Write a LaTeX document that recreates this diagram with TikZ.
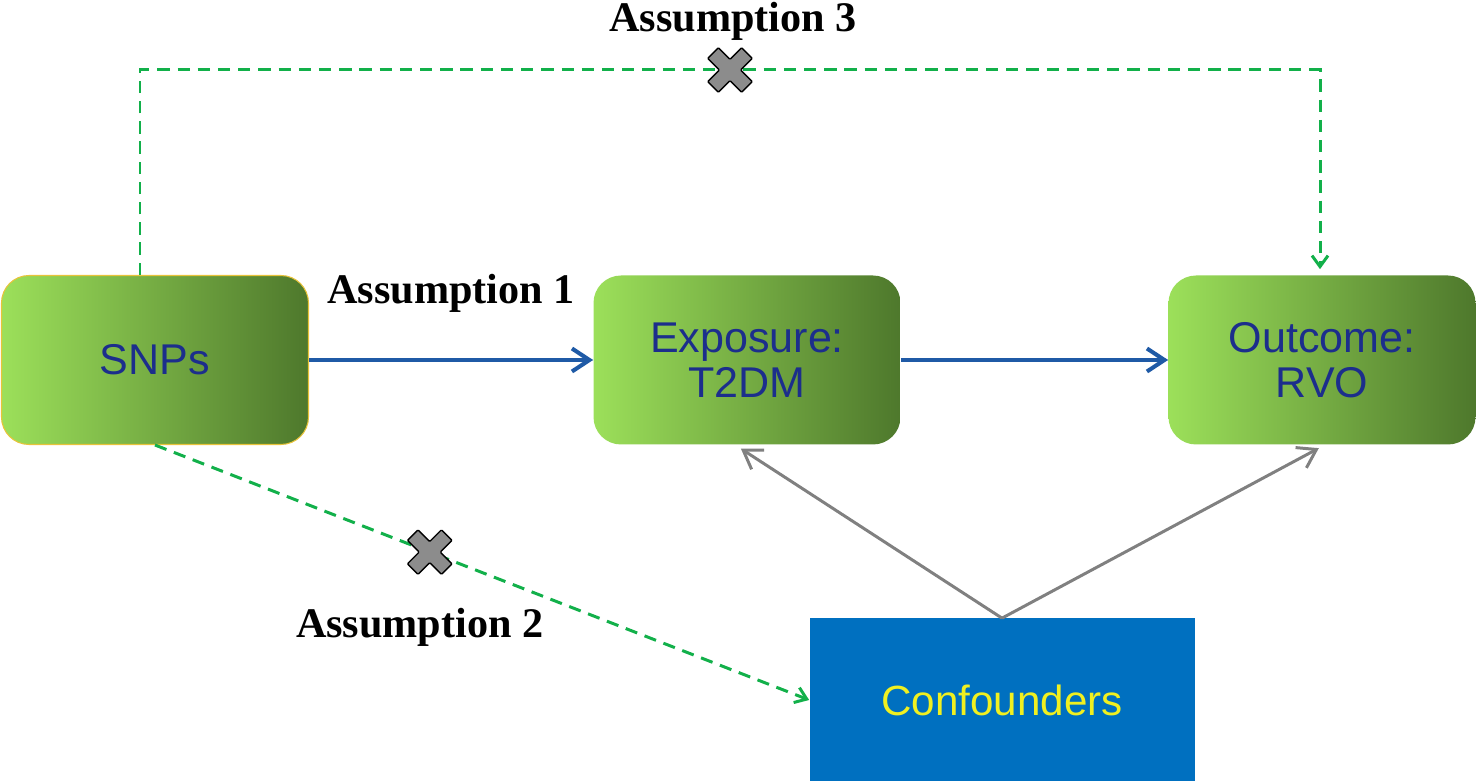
\documentclass[tikz,border=0pt]{standalone}
\usepackage{fontspec}
\setmainfont{Liberation Serif}
\newfontfamily\boxfont{Liberation Sans}
\usetikzlibrary{positioning,calc,arrows.meta}

\definecolor{lightgrn}{HTML}{9CE05A}
\definecolor{midgrn}{HTML}{93D052}
\definecolor{darkgrn}{HTML}{4E782C}
\definecolor{boxedge}{HTML}{E8C33A}
\definecolor{dashgrn}{HTML}{12B04A}
\definecolor{arrowblue}{HTML}{1F5AA6}
\definecolor{navytext}{HTML}{1C2E8C}
\definecolor{confblue}{HTML}{0070C0}
\definecolor{confyellow}{HTML}{F0F020}
\definecolor{crossgray}{HTML}{8C8C8C}

\tikzset{
  varbox/.style={rectangle, rounded corners=0.55cm, minimum width=6.14cm, minimum height=3.38cm,
    left color=lightgrn, middle color=midgrn, right color=darkgrn, text=navytext, align=center, inner sep=0pt,
    font=\boxfont\fontsize{24.5}{25.6}\selectfont},
  confbox/.style={rectangle, fill=confblue, text=confyellow, minimum width=7.7cm, minimum height=3.26cm,
    font=\boxfont\fontsize{24}{25.6}\selectfont},
  asm/.style={inner sep=1pt, font=\bfseries\fontsize{24}{28}\selectfont},
  causal/.style={-{Straight Barb[length=3.5mm,width=4.6mm]}, arrowblue, line width=2.3pt},
  violated/.style={-{Straight Barb[length=2.2mm,width=3.2mm]}, dashgrn, line width=1.7pt,
    dash pattern=on 7pt off 4.5pt},
  confarrow/.style={-{Straight Barb[length=3.5mm,width=4.6mm]}, gray, line width=1.7pt, shorten >=4pt},
  nox/.pic={
    \filldraw[fill=crossgray, draw=black, line width=0.8pt, rotate=45, rounded corners=0.5pt]
      (0.15,0.15) -- (0.48,0.15) -- (0.48,-0.15) -- (0.15,-0.15) -- (0.15,-0.48) -- (-0.15,-0.48)
      -- (-0.15,-0.15) -- (-0.48,-0.15) -- (-0.48,0.15) -- (-0.15,0.15) -- (-0.15,0.48) -- (0.15,0.48) -- cycle;
  }
}

\begin{document}
\begin{tikzpicture}[on grid]
   \useasboundingbox (-3.1,7.2) rectangle (26.42,-8.42);
   \node[varbox, draw=boxedge, line width=0.6pt] (snp) {SNPs};
   \node[varbox] (exp) [right=11.84cm of snp] {Exposure:\\T2DM};
   \node[varbox] (out) [right=11.5cm of exp] {Outcome:\\RVO};
   \node[confbox] (conf) [below right=6.8cm and 16.94cm of snp] {Confounders};

   \draw[causal] (snp) -- (exp);
   \draw[causal] (exp) -- (out);
   \node[asm] (a1) at ($(snp.east)!0.5!(exp.west)+(0,1.34)$) {Assumption 1};

   \coordinate (t1) at ($(snp.center)+(-0.3,5.8)$);
   \coordinate (t2) at ($(out.center)+(-0.04,5.8)$);
   \draw[violated, shorten >=0.12cm] ([xshift=-0.3cm]snp.north) -- (t1) -- (t2) -- ([xshift=-0.04cm]out.north);
   \coordinate (x3) at ($(t1)!0.5!(t2)$);
   \pic at (x3) {nox};
   \node[asm] (a3) at ($(x3)+(0.06,0.98)$) {Assumption 3};

   \draw[violated] (snp.south) -- coordinate[pos=0.42] (x2) (conf.west);
   \pic at (x2) {nox};
   \node[asm] (a2) at ($(x2)+(-0.2,-1.5)$) {Assumption 2};

   \draw[confarrow] (conf.north) -- ([xshift=-0.24cm]exp.south);
   \draw[confarrow] (conf.north) -- ([xshift=0.06cm]out.south);
\end{tikzpicture}
\end{document}
